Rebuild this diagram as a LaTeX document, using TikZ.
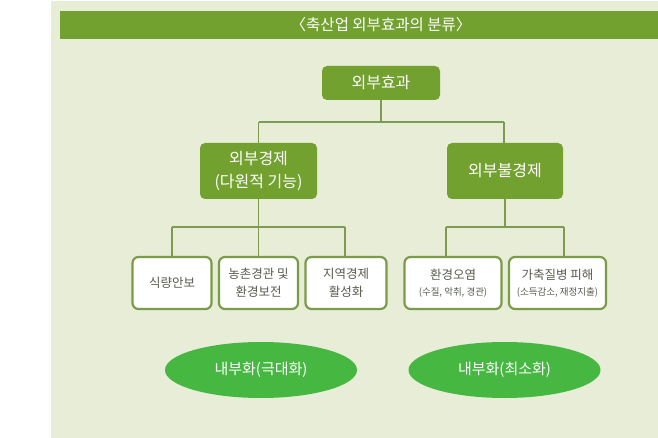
\documentclass[tikz,border=0pt]{standalone}
\usepackage{fontspec}
\setmainfont{Noto Sans CJK KR}
\usetikzlibrary{shapes.geometric}
\definecolor{bgc}{HTML}{E8EDD7}
\definecolor{barc}{HTML}{72A130}
\definecolor{bordc}{HTML}{7A9B48}
\definecolor{linec}{HTML}{7E9B52}
\definecolor{ellc}{HTML}{46B842}
\definecolor{txtc}{HTML}{575C4E}
\tikzset{
  darkbox/.style={fill=barc, rounded corners=5pt, text=white, align=center, inner sep=0pt,
    font=\fontsize{16}{23}\selectfont},
  whitebox/.style={fill=white, draw=bordc, line width=2.2pt, rounded corners=6pt, text=txtc,
    align=center, inner sep=0pt, minimum height=52, font=\fontsize{12.5}{18}\selectfont},
  ovalnode/.style={ellipse, fill=ellc, text=white, minimum width=192, minimum height=56,
    inner sep=0pt, font=\fontsize{15}{18}\selectfont},
  conn/.style={draw=linec, line width=1.1pt},
  small/.style={}
}
\newcommand{\smalltxt}[1]{{\fontsize{9.5}{12}\selectfont #1}}
\begin{document}
\begin{tikzpicture}[x=1pt,y=-1pt]
\useasboundingbox (0,0) rectangle (658,438);
\fill[white] (0,0) rectangle (658,438);
\fill[bgc] (51,1) rectangle (658,438);
\node[fill=barc, minimum width=598, minimum height=28, inner sep=0pt, anchor=west, text=white,
  font=\fontsize{15.5}{18}\selectfont] (title) at (60,25) {};
\node[text=white, font=\fontsize{15.5}{18}\selectfont, inner sep=0pt] (titletext) at (381,25) {〈축산업 외부효과의 분류〉};

\node[darkbox, minimum width=118, minimum height=34] (top) at (381,83) {외부효과};
\node[darkbox, minimum width=117, minimum height=56] (ext1) at (258.5,171) {외부경제\\(다원적 기능)};
\node[darkbox, minimum width=116, minimum height=56] (ext2) at (505,171) {외부불경제};

\node[whitebox, minimum width=79] (f1) at (172,283) {식량안보};
\node[whitebox, minimum width=79] (f2) at (258.5,283) {농촌경관 및\\환경보전};
\node[whitebox, minimum width=81] (f3) at (346,283) {지역경제\\활성화};
\node[whitebox, minimum width=97] (g1) at (453,283) {환경오염\\[-2pt]\smalltxt{(수질, 악취, 경관)}};
\node[whitebox, minimum width=97] (g2) at (557.5,283) {가축질병 피해\\[-2pt]\smalltxt{(소득감소, 재정지출)}};

\node[ovalnode] (o1) at (261,370) {내부화(극대화)};
\node[ovalnode] (o2) at (504.5,370) {내부화(최소화)};

\coordinate (j0) at (381,122);
\coordinate (jl) at (258.5,122);
\coordinate (jr) at (504,122);
\draw[conn] (top.south) -- (j0);
\draw[conn] (jl) -- (jr);
\draw[conn] (jl) -- (ext1.north);
\draw[conn] (jr) -- (jr |- ext2.north);

\coordinate (a1) at (172,227);
\coordinate (a2) at (258.5,227);
\coordinate (a3) at (345,227);
\draw[conn] (ext1.south) -- (a2);
\draw[conn] (a1) -- (a3);
\draw[conn] (a1) -- (f1.north);
\draw[conn] (a2) -- (f2.north);
\draw[conn] (a3) -- (a3 |- f3.north);

\coordinate (b0) at (505,227);
\coordinate (b1) at (446,227);
\coordinate (b2) at (564,227);
\draw[conn] (ext2.south) -- (b0);
\draw[conn] (b1) -- (b2);
\draw[conn] (b1) -- (b1 |- g1.north);
\draw[conn] (b2) -- (b2 |- g2.north);
\end{tikzpicture}
\end{document}
